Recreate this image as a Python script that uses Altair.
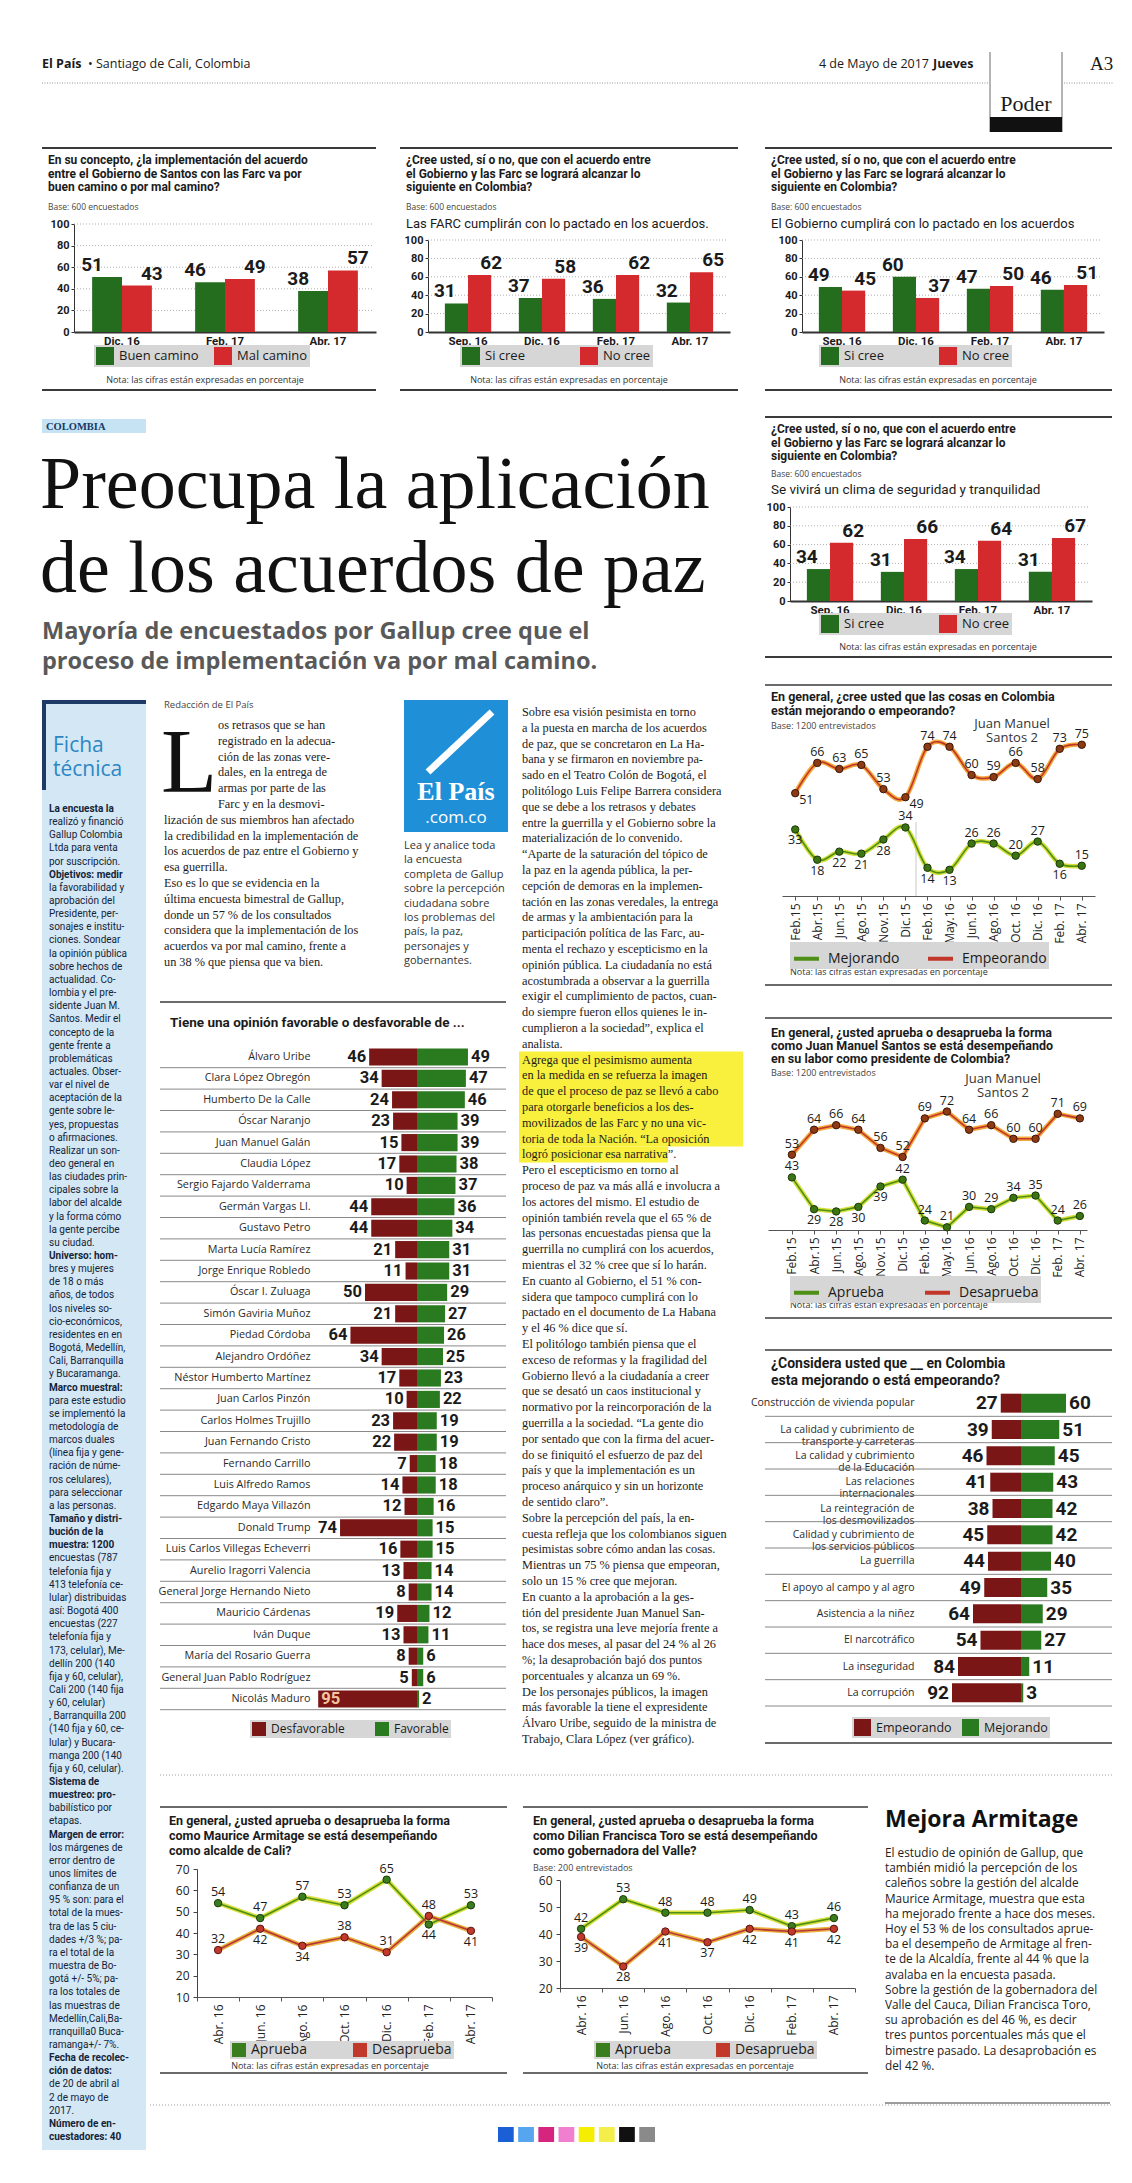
import json
import altair as alt
import pandas as pd

W, H = 1116, 2167
M = 8
SANS = "Roboto"
SANS2 = "Open Sans"
SERIF = "Liberation Serif"
INK = "#1b1b1b"
GREEN = "#246d1f"
RED = "#d42a2e"
DGREEN = "#2a7a20"
DRED = "#7a1616"

# ---------------- DATA ----------------
fechas_a = ["Dic. 16", "Feb. 17", "Abr. 17"]
buen_camino = [51, 46, 38]
mal_camino = [43, 49, 57]

fechas_b = ["Sep. 16", "Dic. 16", "Feb. 17", "Abr. 17"]
farc_si = [31, 37, 36, 32]
farc_no = [62, 58, 62, 65]
gob_si = [49, 60, 47, 46]
gob_no = [45, 37, 50, 51]
seg_si = [34, 31, 34, 31]
seg_no = [62, 66, 64, 67]

fechas_c = ["Feb.15", "Abr.15", "Jun.15", "Ago.15", "Nov.15", "Dic.15", "Feb.16",
            "May.16", "Jun.16", "Ago.16", "Oct. 16", "Dic. 16", "Feb. 17", "Abr. 17"]
mejorando = [33, 18, 22, 21, 28, 34, 14, 13, 26, 26, 20, 27, 16, 15]
empeorando = [51, 66, 63, 65, 53, 49, 74, 74, 60, 59, 66, 58, 73, 75]
aprueba_jms = [43, 29, 28, 30, 39, 42, 24, 21, 30, 29, 34, 35, 24, 26]
desaprueba_jms = [53, 64, 66, 64, 56, 52, 69, 72, 64, 66, 60, 60, 71, 69]

op_nombres = ["Álvaro Uribe", "Clara López Obregón", "Humberto De la Calle", "Óscar Naranjo",
              "Juan Manuel Galán", "Claudia López", "Sergio Fajardo Valderrama", "Germán Vargas Ll.",
              "Gustavo Petro", "Marta Lucía Ramírez", "Jorge Enrique Robledo", "Óscar I. Zuluaga",
              "Simón Gaviria Muñoz", "Piedad Córdoba", "Alejandro Ordóñez", "Néstor Humberto Martínez",
              "Juan Carlos Pinzón", "Carlos Holmes Trujillo", "Juan Fernando Cristo", "Fernando Carrillo",
              "Luis Alfredo Ramos", "Edgardo Maya Villazón", "Donald Trump", "Luis Carlos Villegas Echeverri",
              "Aurelio Iragorri Valencia", "General Jorge Hernando Nieto", "Mauricio Cárdenas", "Iván Duque",
              "María del Rosario Guerra", "General Juan Pablo Rodríguez", "Nicolás Maduro"]
op_desfavorable = [46, 34, 24, 23, 15, 17, 10, 44, 44, 21, 11, 50, 21, 64, 34, 17, 10, 23, 22, 7,
                   14, 12, 74, 16, 13, 8, 19, 13, 8, 5, 95]
op_favorable = [49, 47, 46, 39, 39, 38, 37, 36, 34, 31, 31, 29, 27, 26, 25, 23, 22, 19, 19, 18,
                18, 16, 15, 15, 14, 14, 12, 11, 6, 6, 2]

cons_temas = ["Construcción de vivienda popular", "La calidad y cubrimiento de|transporte y carreteras",
              "La calidad y cubrimiento|de la Educación", "Las relaciones|internacionales",
              "La reintegración de|los desmovilizados", "Calidad y cubrimiento de|los servicios públicos",
              "La guerrilla", "El apoyo al campo y al agro", "Asistencia a la niñez", "El narcotráfico",
              "La inseguridad", "La corrupción"]
cons_empeorando = [27, 39, 46, 41, 38, 45, 44, 49, 64, 54, 84, 92]
cons_mejorando = [60, 51, 45, 43, 42, 42, 40, 35, 29, 27, 11, 3]

fechas_d = ["Abr. 16", "Jun. 16", "Ago. 16", "Oct. 16", "Dic. 16", "Feb. 17", "Abr. 17"]
armitage_aprueba = [54, 47, 57, 53, 65, 44, 53]
armitage_desaprueba = [32, 42, 34, 38, 31, 48, 41]
toro_aprueba = [42, 53, 48, 48, 49, 43, 46]
toro_desaprueba = [39, 28, 41, 37, 42, 41, 42]

reg_colores = ["#1b5fd6", "#55a6ee", "#d6257f", "#f07fd0", "#f6ee00", "#f3ee4a", "#111111", "#8a8a8a"]

# label placement (style) lists: [series 1, series 2]
cosas_abajo = [["Feb.15", "Abr.15", "Jun.15", "Ago.15", "Nov.15", "Feb.16", "May.16", "Feb. 17"], []]
cosas_derecha = [[], ["Feb.15", "Dic.15"]]
jms_abajo = [["Abr.15", "Jun.15", "Ago.15", "Nov.15"], []]
armitage_abajo = [["Feb. 17"], ["Jun. 16", "Ago. 16", "Abr. 17"]]
toro_abajo = [[], fechas_d]
sin_derecha = [[], []]

# ---------------- TEXTS ----------------
NOTA = "Nota: las cifras están expresadas en porcentaje"
t_camino = ["En su concepto, ¿la implementación del acuerdo",
            "entre el Gobierno de Santos con las Farc va por",
            "buen camino o por mal camino?"]
t_cree = ["¿Cree usted, sí o no, que con el acuerdo entre",
          "el Gobierno y las Farc se logrará alcanzar lo",
          "siguiente en Colombia?"]

ficha = ["*La encuesta la", "realizó y financió", "Gallup Colombia", "Ltda para venta", "por suscripción.",
         "*Objetivos: medir", "la favorabilidad y", "aprobación del", "Presidente, per-", "sonajes e institu-",
         "ciones. Sondear", "la opinión pública", "sobre hechos de", "actualidad. Co-", "lombia y el pre-",
         "sidente Juan M.", "Santos. Medir el", "concepto de la", "gente frente a", "problemáticas",
         "actuales. Obser-", "var el nivel de", "aceptación de la", "gente sobre le-", "yes, propuestas",
         "o afirmaciones.", "Realizar un son-", "deo general en", "las ciudades prin-", "cipales sobre la",
         "labor del alcalde", "y la forma cómo", "la gente percibe", "su ciudad.",
         "*Universo: hom-", "bres y mujeres", "de 18 o más", "años, de todos", "los niveles so-",
         "cio-económicos,", "residentes en en", "Bogotá, Medellín,", "Cali, Barranquilla", "y Bucaramanga.",
         "*Marco muestral:", "para este estudio", "se implementó la", "metodología de", "marcos duales",
         "(línea fija y gene-", "ración de núme-", "ros celulares),", "para seleccionar", "a las personas.",
         "*Tamaño y distri-", "*bución de la", "*muestra: 1200", "encuestas (787", "telefonía fija y",
         "413 telefonía ce-", "lular) distribuidas", "así: Bogotá 400", "encuestas (227", "telefonía fija y",
         "173, celular), Me-", "dellín 200 (140", "fija y 60, celular),", "Cali 200 (140 fija", "y 60, celular)",
         ", Barranquilla 200", "(140 fija y 60, ce-", "lular) y Bucara-", "manga 200 (140", "fija y 60, celular).",
         "*Sistema de", "*muestreo: pro-", "babilístico por", "etapas.",
         "*Margen de error:", "los márgenes de", "error dentro de", "unos límites de", "confianza de un",
         "95 % son: para el", "total de la mues-", "tra de las 5 ciu-", "dades +/3 %; pa-", "ra el total de la",
         "muestra de Bo-", "gotá +/- 5%; pa-", "ra los totales de", "las muestras de", "Medellín,Cali,Ba-",
         "rranquilla0 Buca-", "ramanga+/- 7%.",
         "*Fecha de recolec-", "*ción de datos:", "de 20 de abril al", "2 de mayo de", "2017.",
         "*Número de en-", "*cuestadores: 40"]

NB = "\u00a0\u00a0\u00a0"
col1_a = ["os retrasos que se han", "registrado en la adecua-", "ción de las zonas vere-",
          "dales, en la entrega de", "armas por parte de las", "Farc y en la desmovi-"]
col1_b = ["lización de sus miembros han afectado", "la credibilidad en la implementación de",
          "los acuerdos de paz entre el Gobierno y", "esa guerrilla.",
          NB + "Eso es lo que se evidencia en la", "última encuesta bimestral de Gallup,",
          "donde un 57 % de los consultados", "considera que la implementación de los",
          "acuerdos va por mal camino, frente a", "un 38 % que piensa que va bien."]
caption = ["Lea y analice toda", "la encuesta", "completa de Gallup", "sobre la percepción",
           "ciudadana sobre", "los problemas del", "país, la paz,", "personajes y", "gobernantes."]
col3 = [NB + "Sobre esa visión pesimista en torno", "a la puesta en marcha de los acuerdos",
        "de paz, que se concretaron en La Ha-", "bana y se firmaron en noviembre pa-",
        "sado en el Teatro Colón de Bogotá, el", "politólogo Luis Felipe Barrera considera",
        "que se debe a los retrasos y debates", "entre la guerrilla y el Gobierno sobre la",
        "materialización de lo convenido.", NB + "“Aparte de la saturación del tópico de",
        "la paz en la agenda pública, la per-", "cepción de demoras en la implemen-",
        "tación en las zonas veredales, la entrega", "de armas y la ambientación para la",
        "participación política de las Farc, au-", "menta el rechazo y escepticismo en la",
        "opinión pública. La ciudadanía no está", "acostumbrada a observar a la guerrilla",
        "exigir el cumplimiento de pactos, cuan-", "do siempre fueron ellos quienes le in-",
        "cumplieron a la sociedad”, explica el", "analista.",
        NB + "Agrega que el pesimismo aumenta", "en la medida en se refuerza la imagen",
        "de que el proceso de paz se llevó a cabo", "para otorgarle beneficios a los des-",
        "movilizados de las Farc y no una vic-", "toria de toda la Nación. “La oposición",
        "logró posicionar esa narrativa”.",
        NB + "Pero el escepticismo en torno al", "proceso de paz va más allá e involucra a",
        "los actores del mismo. El estudio de", "opinión también revela que el 65 % de",
        "las personas encuestadas piensa que la", "guerrilla no cumplirá con los acuerdos,",
        "mientras el 32 % cree que sí lo harán.",
        NB + "En cuanto al Gobierno, el 51 % con-", "sidera que tampoco cumplirá con lo",
        "pactado en el documento de La Habana", "y el 46 % dice que sí.",
        NB + "El politólogo también piensa que el", "exceso de reformas y la fragilidad del",
        "Gobierno llevó a la ciudadanía a creer", "que se desató un caos institucional y",
        "normativo por la reincorporación de la", "guerrilla a la sociedad. “La gente dio",
        "por sentado que con la firma del acuer-", "do se finiquitó el esfuerzo de paz del",
        "país y que la implementación es un", "proceso anárquico y sin un horizonte",
        "de sentido claro”.",
        NB + "Sobre la percepción del país, la en-", "cuesta refleja que los colombianos siguen",
        "pesimistas sobre cómo andan las cosas.", "Mientras un 75 % piensa que empeoran,",
        "solo un 15 % cree que mejoran.",
        NB + "En cuanto a la aprobación a la ges-", "tión del presidente Juan Manuel San-",
        "tos, se registra una leve mejoría frente a", "hace dos meses, al pasar del 24 % al 26",
        "%; la desaprobación bajó dos puntos", "porcentuales y alcanza un 69 %.",
        NB + "De los personajes públicos, la imagen", "más favorable la tiene el expresidente",
        "Álvaro Uribe, seguido de la ministra de", "Trabajo, Clara López (ver gráfico)."]
mejora = ["El estudio de opinión de Gallup, que", "también midió la percepción de los",
          "caleños sobre la gestión del alcalde", "Maurice Armitage, muestra que esta",
          "ha mejorado frente a hace dos meses.", "Hoy el 53 % de los consultados aprue-",
          "ba el desempeño de Armitage al fren-", "te de la Alcaldía, frente al 44 % que la",
          "avalaba en la encuesta pasada.", "Sobre la gestión de la gobernadora del",
          "Valle del Cauca, Dilian Francisca Toro,", "su aprobación es del 46 %, es decir",
          "tres puntos porcentuales más que el", "bimestre pasado. La desaprobación es",
          "del 42 %."]

# ---------------- HELPERS ----------------
layers = []
one = pd.DataFrame({"k": [0]})


def X(v):
    return v - M


def Y(v):
    return v - M


def txt(lines, x, y, size=12, font=SANS, weight="normal", color=INK, align="left", lh=None):
    if isinstance(lines, str):
        lines = [lines]
    df = pd.DataFrame({"t": ["\n".join(lines)]})
    kw = dict(align=align, baseline="alphabetic", font=font, fontSize=size, fontWeight=weight,
              color=color, lineBreak="\n")
    if lh is not None:
        kw["lineHeight"] = lh
    layers.append(alt.Chart(df).mark_text(**kw).encode(x=alt.value(X(x)), y=alt.value(Y(y)), text="t:N"))


def mixed_block(lines, x, y0, lh, size, font, color):
    """One text line per row; lines starting with '*' are bold."""
    n = len(lines)
    df = pd.DataFrame({"i": list(range(n)),
                       "t": [l[1:] if l.startswith("*") else l for l in lines],
                       "b": [l.startswith("*") for l in lines]})
    ys = alt.Scale(domain=[0, n - 1], range=[Y(y0), Y(y0 + (n - 1) * lh)])
    for flag, weight in (("false", "normal"), ("true", "bold")):
        layers.append(alt.Chart(df).transform_filter(f"datum.b == {flag}").mark_text(
            align="left", baseline="alphabetic", font=font, fontSize=size, fontWeight=weight,
            color=color).encode(x=alt.value(X(x)), y=alt.Y("i:Q", scale=ys, axis=None), text="t:N"))


def hline(x1, x2, y, color="#333", w=1.0, dash=None):
    kw = dict(color=color, strokeWidth=w)
    if dash:
        kw["strokeDash"] = dash
    layers.append(alt.Chart(one).mark_rule(**kw).encode(
        x=alt.value(X(x1)), x2=alt.value(X(x2)), y=alt.value(Y(y))))


def seg(x1, y1, x2, y2, color="#333", w=1.0):
    layers.append(alt.Chart(one).mark_rule(color=color, strokeWidth=w).encode(
        x=alt.value(X(x1)), x2=alt.value(X(x2)), y=alt.value(Y(y1)), y2=alt.value(Y(y2))))


def box(x1, y1, x2, y2, fill):
    layers.append(alt.Chart(one).mark_rect(color=fill).encode(
        x=alt.value(X(x1)), x2=alt.value(X(x2)), y=alt.value(Y(y1)), y2=alt.value(Y(y2))))


def legend(x, y, symbol="square", size=324, lsize=13, colpad=40, sw=0, loff=5):
    return alt.Legend(orient="none", legendX=X(x), legendY=Y(y), direction="horizontal", title=None,
                      symbolType=symbol, symbolSize=size, symbolStrokeWidth=sw, symbolOpacity=1,
                      labelFont=SANS2, labelFontSize=lsize, labelColor=INK, fillColor="#d6d6d6",
                      padding=2, columnPadding=colpad, labelOffset=loff, labelLimit=200)


def bar_chart(cats, names, v1, v2, xr, pin, pout, ytop, ybot, leg):
    n = len(cats)
    df = pd.DataFrame({"fecha": cats + cats, "serie": [names[0]] * n + [names[1]] * n, "valor": v1 + v2})
    xs = alt.Scale(domain=cats, range=[X(xr[0]), X(xr[1])], paddingInner=pin, paddingOuter=pout)
    ys = alt.Scale(domain=[0, 100], range=[Y(ybot), Y(ytop)])
    xo = alt.Scale(domain=names, paddingInner=0, paddingOuter=0)
    grid = pd.DataFrame({"g": [20, 40, 60, 80, 100]})
    layers.append(alt.Chart(grid).mark_rule(color="#9a9a9a", strokeWidth=0.8, strokeDash=[1, 2]).encode(
        y=alt.Y("g:Q", scale=ys, axis=None), x=alt.value(X(xr[0])), x2=alt.value(X(xr[1] - 4))))
    xaxis = alt.Axis(orient="bottom", offset=Y(ybot) - H, title=None, ticks=False, domainColor="#333",
                     domainWidth=2, labelFont=SANS, labelFontWeight="bold", labelFontSize=11.5,
                     labelColor=INK, labelPadding=3, labelAngle=0)
    yaxis = alt.Axis(orient="left", offset=-X(xr[0]), title=None, values=[0, 20, 40, 60, 80, 100],
                     tickSize=3, tickColor="#333", domainColor="#333", labelFont=SANS,
                     labelFontWeight="bold", labelFontSize=11, labelColor=INK, labelPadding=2)
    base = alt.Chart(df)
    layers.append(base.mark_bar().encode(
        x=alt.X("fecha:N", scale=xs, sort=cats, axis=xaxis),
        xOffset=alt.XOffset("serie:N", scale=xo, sort=names),
        y=alt.Y("valor:Q", scale=ys, axis=yaxis),
        color=alt.Color("serie:N", scale=alt.Scale(domain=names, range=[GREEN, RED]), legend=leg)))
    layers.append(base.mark_text(baseline="bottom", dy=-2, font=SANS, fontWeight="bold", fontSize=19,
                                 color=INK).encode(
        x=alt.X("fecha:N", scale=xs, sort=cats, axis=None),
        xOffset=alt.XOffset("serie:N", scale=xo, sort=names),
        y=alt.Y("valor:Q", scale=ys, axis=None),
        text="valor:Q"))


def diverging(names, neg, pos, sn, yr, pin, pout, xdom, xr, axis_x, sep, lsize, nsize, leg,
              inside=1000, label_expr=None):
    n = len(names)
    df = pd.DataFrame({"nombre": names * 2, "serie": [sn[0]] * n + [sn[1]] * n, "valor": neg + pos})
    base = alt.Chart(df).transform_calculate(
        lo=f"datum.serie == '{sn[0]}' ? -datum.valor : 0",
        hi=f"datum.serie == '{sn[0]}' ? 0 : datum.valor")
    ys = alt.Scale(domain=names, range=[Y(yr[0]), Y(yr[1])], paddingInner=pin, paddingOuter=pout)
    ys0 = alt.Scale(domain=names, range=[Y(yr[0]), Y(yr[1])], paddingInner=0, paddingOuter=0)
    xs = alt.Scale(domain=xdom, range=[X(xr[0]), X(xr[1])])
    layers.append(alt.Chart(pd.DataFrame({"nombre": names})).mark_rule(color="#6a6a6a", strokeWidth=0.8).encode(
        y=alt.Y("nombre:N", scale=ys0, sort=names, axis=None, bandPosition=1),
        x=alt.value(X(sep[0])), x2=alt.value(X(sep[1]))))
    ax = dict(orient="left", offset=-X(axis_x), title=None, domain=False, ticks=False, labelPadding=4,
              labelFont=SANS2, labelFontSize=nsize, labelColor="#2a2a2a", labelLimit=400)
    if label_expr:
        ax["labelExpr"] = label_expr
        ax["labelLineHeight"] = nsize + 1.5
    layers.append(base.mark_bar().encode(
        y=alt.Y("nombre:N", scale=ys, sort=names, axis=alt.Axis(**ax)),
        x=alt.X("lo:Q", scale=xs, axis=None), x2="hi:Q",
        color=alt.Color("serie:N", scale=alt.Scale(domain=sn, range=[DRED, DGREEN]), legend=leg)))
    tk = dict(font=SANS, fontWeight="bold", fontSize=lsize, color=INK, baseline="middle")
    enc_y = alt.Y("nombre:N", scale=ys, sort=names, axis=None)
    layers.append(base.transform_filter(f"datum.serie == '{sn[0]}' && datum.valor < {inside}").mark_text(
        align="right", dx=-3, **tk).encode(y=enc_y, x=alt.X("lo:Q", scale=xs, axis=None), text="valor:Q"))
    layers.append(base.transform_filter(f"datum.serie == '{sn[0]}' && datum.valor >= {inside}").mark_text(
        align="left", dx=3, font=SANS, fontWeight="bold", fontSize=lsize, color="#f4c7a0",
        baseline="middle").encode(y=enc_y, x=alt.X("lo:Q", scale=xs, axis=None), text="valor:Q"))
    layers.append(base.transform_filter(f"datum.serie == '{sn[1]}'").mark_text(
        align="left", dx=3, **tk).encode(y=enc_y, x=alt.X("hi:Q", scale=xs, axis=None), text="valor:Q"))


def line_chart(cats, names, vals, xs, ys, xaxis, yaxis, glow, line, fill, stroke, interp, below, right,
               leg, leg_on="line", lsize=12.5, glow_w=4.5, line_w=1.6, psize=55):
    n = len(cats)
    df = pd.DataFrame({"fecha": cats * len(names), "serie": [s for s in names for _ in range(n)],
                       "valor": [v for vs in vals for v in vs]})
    base = alt.Chart(df)

    def enc(xa=None, ya=None):
        return dict(x=alt.X("fecha:N", scale=xs, sort=cats, axis=xa),
                    y=alt.Y("valor:Q", scale=ys, axis=ya))
    layers.append(base.mark_line(strokeWidth=glow_w, interpolate=interp).encode(
        **enc(xaxis, yaxis), color=alt.Color("serie:N", scale=alt.Scale(domain=names, range=glow), legend=None)))
    layers.append(base.mark_line(strokeWidth=line_w, interpolate=interp).encode(
        **enc(), color=alt.Color("serie:N", scale=alt.Scale(domain=names, range=line),
                                 legend=leg if leg_on == "line" else None)))
    layers.append(base.mark_circle(size=psize, opacity=1, strokeWidth=1).encode(
        **enc(), fill=alt.Fill("serie:N", scale=alt.Scale(domain=names, range=fill),
                               legend=leg if leg_on == "fill" else None),
        stroke=alt.Stroke("serie:N", scale=alt.Scale(domain=names, range=stroke), legend=None)))
    kb = json.dumps([f"{s}|{f}" for s, fs in zip(names, below) for f in fs])
    kr = json.dumps([f"{s}|{f}" for s, fs in zip(names, right) for f in fs])
    lab = base.transform_calculate(key="datum.serie + '|' + datum.fecha")
    tk = dict(font=SANS2, fontSize=lsize, color=INK)
    layers.append(lab.transform_filter(
        f"indexof({kb}, datum.key) < 0 && indexof({kr}, datum.key) < 0").mark_text(
        baseline="bottom", dy=-4, **tk).encode(**enc(), text="valor:Q"))
    layers.append(lab.transform_filter(f"indexof({kb}, datum.key) >= 0").mark_text(
        baseline="top", dy=5, **tk).encode(**enc(), text="valor:Q"))
    layers.append(lab.transform_filter(f"indexof({kr}, datum.key) >= 0").mark_text(
        baseline="top", align="left", dx=4, dy=1, **tk).encode(**enc(), text="valor:Q"))


def date_axis(y, labsize=12, band=False):
    kw = dict(orient="bottom", offset=Y(y) - H, title=None, labelAngle=270, labelFont=SANS2,
              labelFontSize=labsize, labelColor="#222", domainColor="#555", tickColor="#555",
              tickSize=4, labelPadding=3)
    if band:
        kw["tickBand"] = "extent"
    return alt.Axis(**kw)


# ---------------- HEADER ----------------
txt("El País", 42, 68, 12.5, SANS2, "bold")
txt("•  Santiago de Cali, Colombia", 88, 68, 12.5, SANS2)
txt("4 de Mayo de 2017", 929, 68, 12.5, SANS2, align="right")
txt("Jueves", 933, 68, 12.5, SANS2, "bold")
txt("A3", 1090, 70, 19, SERIF)
hline(42, 988, 83, "#777", 0.8, [1, 1.5])
hline(1064, 1114, 83, "#777", 0.8, [1, 1.5])
seg(990, 52, 990, 132, "#444", 0.8)
seg(1062, 52, 1062, 132, "#444", 0.8)
box(990, 117, 1062, 132, "#111")
txt("Poder", 1026, 111, 22, SERIF, align="center")

# ---------------- TOP BAR CHARTS ----------------
hline(42, 376, 148, "#3a3a3a", 2)
hline(42, 376, 390, "#3a3a3a", 2)
txt(t_camino, 48, 164, 12, SANS, "bold", lh=13.5)
txt("Base: 600 encuestados", 48, 210, 8.5, SANS2, color="#444")
bar_chart(fechas_a, ["Buen camino", "Mal camino"], buen_camino, mal_camino, (74, 376), 0.42, 0.176,
          224, 332, legend(94, 345, colpad=15))
txt(NOTA, 205, 383, 9, SANS2, color="#333", align="center")

hline(400, 738, 148, "#3a3a3a", 2)
hline(400, 738, 390, "#3a3a3a", 2)
txt(t_cree, 406, 164, 12, SANS, "bold", lh=13.5)
txt("Base: 600 encuestados", 406, 210, 8.5, SANS2, color="#444")
txt("Las FARC cumplirán con lo pactado en los acuerdos.", 406, 228, 13, SANS)
bar_chart(fechas_b, ["Si cree", "No cree"], farc_si, farc_no, (428, 730), 0.374, 0.228, 240, 332,
          legend(460, 345, colpad=55))
txt(NOTA, 569, 383, 9, SANS2, color="#333", align="center")

hline(765, 1112, 148, "#3a3a3a", 2)
hline(765, 1112, 390, "#3a3a3a", 2)
txt(t_cree, 771, 164, 12, SANS, "bold", lh=13.5)
txt("Base: 600 encuestados", 771, 210, 8.5, SANS2, color="#444")
txt("El Gobierno cumplirá con lo pactado en los acuerdos", 771, 228, 13, SANS)
bar_chart(fechas_b, ["Si cree", "No cree"], gob_si, gob_no, (802, 1104), 0.374, 0.228, 240, 332,
          legend(819, 345, colpad=55))
txt(NOTA, 938, 383, 9, SANS2, color="#333", align="center")

# ---------------- 4th BAR CHART ----------------
hline(765, 1112, 417, "#3a3a3a", 2)
hline(765, 1112, 657, "#3a3a3a", 2)
txt(t_cree, 771, 433, 12, SANS, "bold", lh=13.5)
txt("Base: 600 encuestados", 771, 477, 8.5, SANS2, color="#444")
txt("Se vivirá un clima de seguridad y tranquilidad", 771, 494, 13.5, SANS)
bar_chart(fechas_b, ["Si cree", "No cree"], seg_si, seg_no, (790, 1092), 0.374, 0.228, 507, 601,
          legend(819, 613, colpad=55))
txt(NOTA, 938, 650, 9, SANS2, color="#333", align="center")

# ---------------- HEADLINE ----------------
box(42, 419, 146, 433, "#c5e3f3")
txt("COLOMBIA", 46, 430, 10.5, SERIF, "bold", color="#163a66")
txt("Preocupa la aplicación", 40, 508, 74, SERIF, color="#111")
txt("de los acuerdos de paz", 40, 592, 74, SERIF, color="#111")
txt(["Mayoría de encuestados por Gallup cree que el", "proceso de implementación va por mal camino."],
    42, 639, 23.5, SANS2, "bold", color="#595959", lh=30)

# ---------------- FICHA TECNICA ----------------
box(42, 700, 146, 2150, "#d3e7f4")
box(42, 700, 146, 704, "#1d3b66")
box(42, 700, 46, 790, "#1d3b66")
txt(["Ficha", "técnica"], 53, 752, 21, SANS2, color="#2d86c4", lh=24)
mixed_block(ficha, 49, 812, (2140 - 812) / (len(ficha) - 1), 10, SANS, "#13243a")

# ---------------- ARTICLE ----------------
LH = 15.8
txt("Redacción de El País", 164, 708, 9.5, SANS2, color="#444")
txt("L", 161, 729 + 4 * LH, 92, SERIF, color="#111")
txt(col1_a, 218, 729, 12.3, SERIF, lh=LH)
txt(col1_b, 164, 729 + 6 * LH, 12.3, SERIF, lh=LH)
box(404, 700, 508, 832, "#1f8fd8")
seg(428, 772, 492, 712, "white", 7)
txt("El País", 456, 800, 26, SERIF, "bold", color="white", align="center")
txt(".com.co", 456, 823, 17, SANS2, color="white", align="center")
txt(caption, 404, 849, 11, SANS2, color="#333", lh=14.4)
C3 = 716
box(519, C3 + 22 * LH - 12, 743, C3 + 27 * LH + 4, "#f8f03c")
box(519, C3 + 27 * LH + 4, 668, C3 + 28 * LH + 4, "#f8f03c")
txt(col3, 522, C3, 12.3, SERIF, lh=LH)

# ---------------- OPINION CHART ----------------
hline(160, 506, 1002, "#3a3a3a", 1.5)
txt("Tiene una opinión favorable o desfavorable de ...", 170, 1027, 13.5, SANS, "bold")
diverging(op_nombres, op_desfavorable, op_favorable, ["Desfavorable", "Favorable"],
          (1046.3, 1709.7), 0.2, 0.1, [-100, 60], (313, 479.4), 314, (160, 506), 16.5, 10.8,
          legend(250, 1720, size=196, lsize=12, colpad=30), inside=90)

# ---------------- COSAS CHART ----------------
hline(765, 1112, 685, "#3a3a3a", 1.5)
hline(765, 1112, 985, "#3a3a3a", 1.5)
txt(["En general, ¿cree usted que las cosas en Colombia", "están mejorando o empeorando?"],
    771, 701, 12.5, SANS, "bold", lh=14)
txt("Base: 1200 entrevistados", 771, 729, 9, SANS2, color="#444")
txt("Juan Manuel", 1012, 728, 13, SANS2, color="#333", align="center")
txt("Santos 2", 1012, 742, 13, SANS2, color="#333", align="center")
seg(916, 822, 916, 896, "#bbbbbb", 0.8)
line_chart(fechas_c, ["Mejorando", "Empeorando"], [mejorando, empeorando],
           alt.Scale(type="point", domain=fechas_c, range=[X(782), X(1095)], padding=0.6, align=0.5),
           alt.Scale(domain=[0, 85], range=[Y(896), Y(724.6)]),
           date_axis(896), None,
           ["#d3df3a", "#f2a83a"], ["#4e8f17", "#c2372a"], ["#3b7413", "#8e3b14"], ["#1d3a08", "#3c1607"],
           "cardinal", cosas_abajo, cosas_derecha,
           legend(790, 942, symbol="stroke", size=625, lsize=14, colpad=20, sw=4, loff=7))
txt(NOTA, 790, 975, 9, SANS2, color="#333")

# ---------------- SANTOS CHART ----------------
hline(765, 1112, 1018, "#3a3a3a", 1.5)
hline(765, 1112, 1318, "#3a3a3a", 1.5)
txt(["En general, ¿usted aprueba o desaprueba la forma",
     "como Juan Manuel Santos se está desempeñando",
     "en su labor como presidente de Colombia?"], 771, 1037, 12.5, SANS, "bold", lh=13)
txt("Base: 1200 entrevistados", 771, 1076, 9, SANS2, color="#444")
txt("Juan Manuel", 1003, 1083, 13, SANS2, color="#333", align="center")
txt("Santos 2", 1003, 1097, 13, SANS2, color="#333", align="center")
line_chart(fechas_c, ["Aprueba", "Desaprueba"], [aprueba_jms, desaprueba_jms],
           alt.Scale(type="point", domain=fechas_c, range=[X(768), X(1087)], padding=0.7, align=0.77),
           alt.Scale(domain=[20, 86], range=[Y(1229.6), Y(1079.8)]),
           date_axis(1230), None,
           ["#d3df3a", "#f2a83a"], ["#4e8f17", "#c2372a"], ["#3b7413", "#8e3b14"], ["#1d3a08", "#3c1607"],
           "linear", jms_abajo, sin_derecha,
           legend(790, 1276, symbol="stroke", size=625, lsize=14, colpad=33, sw=4, loff=7))
txt(NOTA, 790, 1308, 9, SANS2, color="#333")

# ---------------- CONSIDERA CHART ----------------
hline(765, 1112, 1350, "#3a3a3a", 1.5)
hline(765, 1112, 1743, "#3a3a3a", 1.5)
txt(["¿Considera usted que __ en Colombia", "esta mejorando o está empeorando?"],
    771, 1368, 14, SANS, "bold", lh=17)
diverging(cons_temas, cons_empeorando, cons_mejorando, ["Empeorando", "Mejorando"],
          (1390, 1706), 0.28, 0.14, [-100, 80], (946, 1081), 918, (765, 1112), 19, 10.5,
          legend(852, 1717, size=289, lsize=12.5, colpad=10), label_expr="split(datum.label, '|')")
hline(160, 1112, 1775, "#888", 0.8, [1, 2])

# ---------------- ARMITAGE ----------------
hline(160, 507, 1807, "#3a3a3a", 1.5)
hline(160, 507, 2073, "#3a3a3a", 1.5)
txt(["En general, ¿usted aprueba o desaprueba la forma",
     "como Maurice Armitage se está desempeñando",
     "como alcalde de Cali?"], 169, 1825, 12.5, SANS, "bold", lh=15)
yax_a = alt.Axis(orient="left", offset=-X(197), title=None, values=[10, 20, 30, 40, 50, 60, 70],
                 tickSize=4, labelFont=SANS2, labelFontSize=12, labelColor="#222",
                 domainColor="#444", tickColor="#444", labelPadding=4)
line_chart(fechas_d, ["Aprueba", "Desaprueba"], [armitage_aprueba, armitage_desaprueba],
           alt.Scale(type="band", domain=fechas_d, range=[X(197), X(492)], paddingInner=0, paddingOuter=0),
           alt.Scale(domain=[10, 70], range=[Y(1997), Y(1869)]),
           date_axis(1997, band=True), yax_a,
           ["#d7e03c", "#e7b13a"], ["#4e8f17", "#b8343a"], ["#3a7d1f", "#c0392b"], ["#1d3a08", "#5a1510"],
           "linear", armitage_abajo, sin_derecha,
           legend(230, 2041, size=196, lsize=14, colpad=46), leg_on="fill")
txt(NOTA, 330, 2069, 9, SANS2, color="#333", align="center")

# ---------------- TORO ----------------
hline(523, 868, 1807, "#3a3a3a", 1.5)
hline(523, 868, 2073, "#3a3a3a", 1.5)
txt(["En general, ¿usted aprueba o desaprueba la forma",
     "como Dilian Francisca Toro se está desempeñando",
     "como gobernadora del Valle?"], 533, 1825, 12.5, SANS, "bold", lh=15)
txt("Base: 200 entrevistados", 533, 1871, 9, SANS2, color="#444")
yax_t = alt.Axis(orient="left", offset=-X(560), title=None, values=[20, 30, 40, 50, 60],
                 tickSize=4, labelFont=SANS2, labelFontSize=12, labelColor="#222",
                 domainColor="#444", tickColor="#444", labelPadding=4)
line_chart(fechas_d, ["Aprueba", "Desaprueba"], [toro_aprueba, toro_desaprueba],
           alt.Scale(type="band", domain=fechas_d, range=[X(560), X(855)], paddingInner=0, paddingOuter=0),
           alt.Scale(domain=[20, 60], range=[Y(1988), Y(1880.4)]),
           date_axis(1988, band=True), yax_t,
           ["#d7e03c", "#e7b13a"], ["#4e8f17", "#b8343a"], ["#3a7d1f", "#c0392b"], ["#1d3a08", "#5a1510"],
           "linear", toro_abajo, sin_derecha,
           legend(594, 2041, size=196, lsize=14, colpad=45), leg_on="fill")
txt(NOTA, 695, 2069, 9, SANS2, color="#333", align="center")

# ---------------- MEJORA ARMITAGE ----------------
txt("Mejora Armitage", 885, 1827, 23, SANS2, "bold", color="#111")
txt(mejora, 885, 1857, 11.8, SANS2, color="#222", lh=15.2)
hline(885, 1110, 2103, "#3a3a3a", 1)
hline(150, 1112, 2105, "#888", 0.8, [1, 2])

# registration colour bar
reg = pd.DataFrame({"i": list(range(len(reg_colores))), "c": reg_colores})
layers.append(alt.Chart(reg).mark_rect().encode(
    x=alt.X("i:O", scale=alt.Scale(domain=list(range(len(reg_colores))), range=[X(498), X(655)],
                                    paddingInner=0.22, paddingOuter=0), axis=None),
    y=alt.value(Y(2127)), y2=alt.value(Y(2142)),
    color=alt.Color("c:N", scale=None)))

chart = alt.layer(*layers).resolve_scale(
    x="independent", y="independent", color="independent", fill="independent",
    stroke="independent", xOffset="independent"
).properties(
    width=W, height=H, autosize=alt.AutoSizeParams(type="none"), padding=0, background="white"
).configure_view(stroke=None).configure_axis(grid=False)

chart.save("out.html", embed_options={"renderer": "svg", "actions": False})
